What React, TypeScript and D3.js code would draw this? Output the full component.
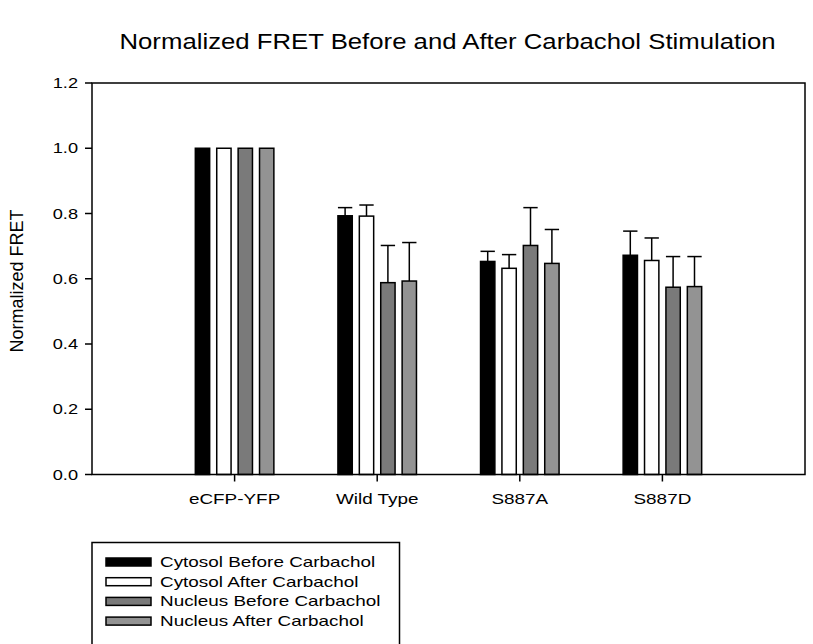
import React from "react";
import * as d3 from "d3";

const categories = ["eCFP-YFP", "Wild Type", "S887A", "S887D"];
const seriesNames = [
  "Cytosol Before Carbachol",
  "Cytosol After Carbachol",
  "Nucleus Before Carbachol",
  "Nucleus After Carbachol",
];
const seriesColors = ["#000000", "#ffffff", "#7a7a7a", "#939393"];
// values[series][category]
const cytosolBefore = [1.0, 0.793, 0.653, 0.672];
const cytosolAfter = [1.0, 0.792, 0.632, 0.656];
const nucleusBefore = [1.0, 0.588, 0.702, 0.574];
const nucleusAfter = [1.0, 0.593, 0.647, 0.576];
// upper error values (mean + SD); null = none
const cytosolBeforeErr = [null, 0.818, 0.684, 0.746];
const cytosolAfterErr = [null, 0.826, 0.674, 0.725];
const nucleusBeforeErr = [null, 0.702, 0.818, 0.668];
const nucleusAfterErr = [null, 0.711, 0.751, 0.668];
const yTicks = [0.0, 0.2, 0.4, 0.6, 0.8, 1.0, 1.2];

const values = [cytosolBefore, cytosolAfter, nucleusBefore, nucleusAfter];
const errs = [cytosolBeforeErr, cytosolAfterErr, nucleusBeforeErr, nucleusAfterErr];

const FONT = "'Liberation Sans', Arial, sans-serif";

export default function App() {
  const W = 813, H = 644;
  const left = 92, right = 805, top = 83, bottom = 474.5;
  const x = d3.scalePoint<string>().domain(categories).range([left, right]).padding(1);
  const y = d3.scaleLinear().domain([0, 1.2]).range([bottom, top]);
  const inner = d3
    .scaleBand<number>()
    .domain(d3.range(seriesNames.length))
    .range([-42.8, 42.8])
    .paddingInner(0.33)
    .paddingOuter(0.165);
  const bw = inner.bandwidth();

  const sText = (tx: number, ty: number, sx: number) => `translate(${tx},${ty}) scale(${sx},1)`;

  return (
    <svg width={W} height={H} style={{ position: "absolute", left: 0, top: 0, background: "#fff" }}>
      <rect x={0} y={0} width={W} height={H} fill="#fff" />
      <text
        transform={sText(447.5, 49, 1.17)}
        textAnchor="middle"
        fontFamily={FONT}
        fontSize={22}
        fill="#000"
      >
        Normalized FRET Before and After Carbachol Stimulation
      </text>

      {/* bars */}
      {categories.map((c, ci) => (
        <g key={c}>
          {seriesNames.map((s, si) => {
            const v = values[si][ci];
            const bx = (x(c) as number) + (inner(si) as number);
            const e = errs[si][ci];
            return (
              <g key={s}>
                {e != null && (
                  <g stroke="#000" strokeWidth={1.5}>
                    <line x1={bx + bw / 2} x2={bx + bw / 2} y1={y(v)} y2={y(e)} />
                    <line x1={bx} x2={bx + bw} y1={y(e)} y2={y(e)} />
                  </g>
                )}
                <rect
                  x={bx}
                  y={y(v)}
                  width={bw}
                  height={bottom - y(v)}
                  fill={seriesColors[si]}
                  stroke="#000"
                  strokeWidth={1.5}
                />
              </g>
            );
          })}
        </g>
      ))}

      {/* frame */}
      <rect x={left} y={top} width={right - left} height={bottom - top} fill="none" stroke="#000" strokeWidth={1.5} />

      {/* y axis */}
      {yTicks.map((t) => (
        <g key={t}>
          <line x1={left - 7} x2={left} y1={y(t)} y2={y(t)} stroke="#000" strokeWidth={1.5} />
          <text
            transform={sText(78, y(t) + 5, 1.3)}
            textAnchor="end"
            fontFamily={FONT}
            fontSize={14}
          >
            {t.toFixed(1)}
          </text>
        </g>
      ))}
      <text
        transform={`translate(23,281) rotate(-90)`}
        textAnchor="middle"
        fontFamily={FONT}
        fontSize={18}
      >
        Normalized FRET
      </text>

      {/* x axis */}
      {categories.map((c) => (
        <g key={c}>
          <line x1={x(c)} x2={x(c)} y1={bottom} y2={bottom + 7} stroke="#000" strokeWidth={1.5} />
          <text transform={sText(x(c) as number, 504, 1.35)} textAnchor="middle" fontFamily={FONT} fontSize={14}>
            {c}
          </text>
        </g>
      ))}

      {/* legend */}
      <rect x={92} y={542.5} width={307.5} height={110} fill="none" stroke="#000" strokeWidth={1.5} />
      {seriesNames.map((s, i) => {
        const cy = 562 + i * 19.7;
        return (
          <g key={s}>
            <rect x={106} y={cy - 4} width={45} height={8} fill={seriesColors[i]} stroke="#000" strokeWidth={1.5} />
            <text transform={sText(160, cy + 5, 1.35)} fontFamily={FONT} fontSize={14}>
              {s}
            </text>
          </g>
        );
      })}
    </svg>
  );
}
